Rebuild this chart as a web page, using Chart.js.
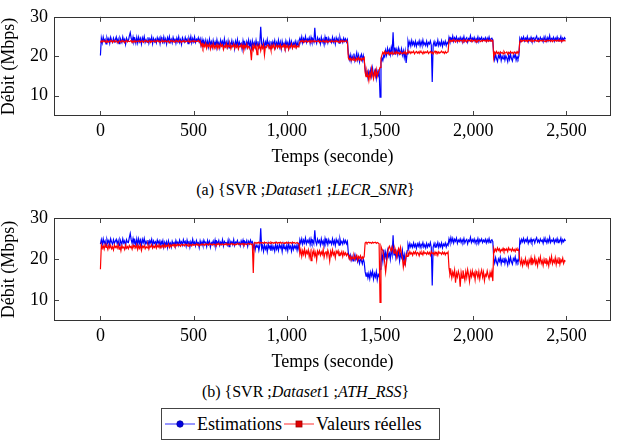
<!DOCTYPE html>
<html><head><meta charset="utf-8">
<script src="https://cdn.jsdelivr.net/npm/chart.js@4.4.0/dist/chart.umd.min.js"></script>
<style>
html,body{margin:0;padding:0;background:#fff;}
body{width:617px;height:446px;position:relative;overflow:hidden;font-family:"Liberation Serif",serif;color:#000;}
canvas{position:absolute;left:0;}
#cA{top:0;}
#cB{top:200px;}
.cap{position:absolute;left:0;width:611px;text-align:center;font-family:"Liberation Serif",serif;font-size:16px;line-height:18px;white-space:nowrap;}
#legend{position:absolute;left:161px;top:408px;width:279px;height:32px;border:1px solid #444;box-sizing:border-box;display:flex;align-items:center;font-family:"Liberation Serif",serif;font-size:18px;padding-left:3px;white-space:nowrap;}
#legend span{font-family:"Liberation Serif",serif;}
#legend svg{display:block;margin:0 2px 0 0;}
</style>
</head><body>
<canvas id="cA" width="617" height="168"></canvas>
<canvas id="cB" width="617" height="173"></canvas>
<div class="cap" style="top:181px;">(a) {SVR ;<i>Dataset</i>1 ;<i>LECR_SNR</i>}</div>
<div class="cap" style="top:383px;">(b) {SVR ;<i>Dataset</i>1 ;<i>ATH_RSS</i>}</div>
<div id="legend">
<svg width="30" height="12"><line x1="0" y1="6" x2="30" y2="6" stroke="#5050ff" stroke-width="1.2"/><circle cx="15" cy="6" r="3.2" fill="#0000e0" stroke="#0000a0" stroke-width="0.8"/></svg>
<span>Estimations</span>
<svg width="30" height="12" style="margin-left:2px"><line x1="0" y1="6" x2="30" y2="6" stroke="#ff5050" stroke-width="1.2"/><rect x="12" y="3" width="6" height="6" fill="#e00000" stroke="#a00000" stroke-width="0.8"/></svg>
<span>Valeurs réelles</span>
</div>
<script>
// ---- data (one sample every 5 s) ----
const SAMPLE_PERIOD = 5; // seconds between plotted samples
const X_TICKS = [0, 500, 1000, 1500, 2000, 2500];
const Y_TICKS = [10, 20, 30];
const SERIES_NAMES = ["Estimations", "Valeurs réelles"];

// (a) {SVR; Dataset1; LECR_SNR}
const estimationsA = [
20.2,24.6,23.4,24.9,23.8,24.3,23.1,24.7,23.9,24.5,
23.3,24.8,24.0,23.5,24.6,23.7,24.2,24.9,23.6,24.4,
23.2,24.7,24.1,23.5,24.9,23.8,24.3,23.0,24.6,24.0,
23.9,25.1,26.0,24.6,23.7,24.9,23.6,24.4,23.3,24.8,
23.4,24.8,23.7,24.5,23.1,24.7,23.9,25.0,23.5,24.2,
23.6,24.8,23.3,24.4,23.8,24.9,23.2,24.5,23.7,24.3,
23.4,24.7,23.9,24.6,23.2,24.8,24.0,23.5,24.9,23.6,
24.4,23.1,24.7,23.8,25.0,23.6,24.3,23.4,24.8,23.9,
24.5,23.3,24.6,23.7,24.9,23.5,24.2,23.0,24.7,24.1,
23.6,24.8,23.9,24.4,23.2,24.6,23.8,25.0,23.4,24.5,
23.7,24.9,23.5,24.3,23.9,24.7,23.6,24.4,
22.8,24.2,
22.5,23.9,22.9,24.1,22.6,23.8,22.4,24.3,23.0,23.7,
22.3,24.0,22.8,23.6,22.5,24.2,22.9,23.5,22.2,24.1,
23.1,23.8,22.6,24.4,22.7,23.6,22.4,23.9,22.1,23.4,
22.8,24.0,22.6,23.5,21.9,23.8,22.7,24.2,22.4,23.6,
22.9,23.3,21.8,23.9,22.5,23.4,22.2,23.7,22.8,24.1,
22.4,23.6,22.0,23.9,22.7,23.5,22.3,24.0,22.6,23.8,
22.2,23.4,27.5,23.1,22.5,23.9,22.1,23.6,22.8,24.2,
22.6,23.5,22.0,23.8,22.4,23.7,22.9,24.0,22.3,23.5,
22.7,24.1,22.4,23.6,21.9,23.8,22.6,23.3,22.2,23.9,
22.8,23.5,22.1,24.0,22.5,23.7,22.3,23.4,22.9,23.8,
22.4,23.6,22.7,23.9,
24.6,23.6,24.9,23.4,24.5,23.8,
25.0,23.5,24.4,23.9,24.7,23.3,24.8,23.7,24.3,23.6,
27.2,24.1,23.3,24.7,23.9,24.4,23.2,24.8,23.6,24.3,
23.0,24.9,23.7,24.5,23.4,24.6,23.8,24.2,23.5,24.8,
23.6,24.4,23.1,24.7,23.9,24.5,23.3,24.8,23.7,24.2,
23.5,24.6,23.8,24.4,23.6,24.2,
20.6,19.2,20.4,18.8,
20.1,19.4,20.7,18.9,19.8,20.9,19.1,20.3,18.6,19.9,
20.5,19.0,20.2,18.9,
16.8,15.1,16.4,14.6,16.2,15.3,
16.6,15.0,16.9,14.8,15.9,16.5,14.4,16.1,15.2,16.7,
9.6,
18.4,19.6,18.9,20.3,19.8,21.5,20.3,22.0,20.8,
21.7,20.4,22.2,21.0,26.1,20.6,22.2,20.9,21.8,20.5,
22.1,21.2,20.7,21.9,20.3,21.4,19.7,21.3,18.3,20.6,
23.9,22.8,23.7,22.6,24.0,22.9,23.6,22.7,23.8,22.5,
23.5,23.0,23.9,22.6,23.7,22.8,24.1,22.9,23.4,22.7,
23.8,22.6,23.5,23.1,23.9,22.8,13.5,22.8,23.7,22.6,
23.4,22.9,24.1,22.7,23.5,22.8,23.9,22.5,23.6,23.0,
23.8,22.7,23.5,23.1,
24.8,23.9,24.6,24.0,25.1,23.8,
24.7,24.2,24.9,23.7,24.5,24.1,24.8,23.9,24.6,24.0,
25.0,23.8,24.4,24.7,23.6,24.5,24.2,25.2,23.9,24.6,
24.1,24.8,23.8,24.5,24.0,24.9,23.7,24.6,24.2,24.8,
23.9,24.5,24.1,24.7,23.8,24.6,24.0,24.9,23.9,24.4,
24.6,24.1,
20.3,19.1,20.5,19.4,18.7,20.2,19.6,20.6,
18.9,20.0,19.3,20.4,19.0,20.1,19.5,18.6,20.3,19.2,
20.5,19.4,18.8,20.2,19.7,20.6,19.0,19.9,19.3,20.1,
24.5,23.8,24.7,24.1,24.9,23.9,24.6,24.2,25.0,23.7,
24.5,24.0,24.8,23.9,24.4,24.7,23.8,24.6,25.1,24.0,
24.5,23.9,24.8,24.2,24.5,23.7,24.9,24.1,24.6,23.8,
24.7,24.0,25.2,23.9,24.5,24.2,24.8,23.8,24.6,24.1,
24.9,23.9,24.5,24.2,25.0,23.8,24.6,24.1,24.7,24.3
];
const realA = [
23.5,23.9,23.6,24.0,23.7,23.9,23.5,24.0,23.8,23.6,
23.9,23.7,24.0,23.5,23.8,24.0,23.6,23.9,23.7,23.4,
23.9,23.8,23.6,24.0,23.7,23.9,23.4,23.8,24.0,23.6,
23.9,23.7,23.8,24.0,23.5,23.9,23.7,24.0,23.6,23.8,
23.9,23.7,24.0,23.6,23.8,23.9,23.5,23.8,24.0,23.7,
23.9,23.6,23.8,24.0,23.5,23.9,23.7,23.8,24.0,23.6,
23.8,24.0,23.7,23.9,23.5,23.8,24.0,23.6,23.9,23.7,
24.0,23.6,23.8,23.9,23.4,23.8,24.0,23.7,23.9,23.6,
23.8,24.0,23.7,23.9,23.6,24.0,23.8,23.5,23.9,23.7,
24.0,23.6,23.8,23.9,23.7,24.0,23.5,23.8,23.9,23.7,
24.0,23.6,23.9,23.7,23.8,24.0,23.6,23.9,
22.6,23.2,
22.1,23.0,22.4,23.3,22.0,22.9,22.5,23.1,21.8,22.8,
22.3,23.2,22.0,22.7,22.4,23.0,21.9,22.8,22.2,23.1,
22.5,22.9,21.7,22.6,22.3,23.2,22.1,22.8,22.4,23.0,
21.9,22.7,22.5,23.1,22.0,22.8,22.3,22.9,21.8,22.6,
22.4,23.0,22.1,22.8,21.6,22.7,22.3,23.1,22.0,22.5,
22.3,21.5,19.0,22.5,21.6,22.9,22.1,22.6,20.4,22.7,
22.1,22.8,21.4,22.6,22.0,22.9,20.3,22.4,22.2,22.8,
22.9,22.0,22.6,21.5,22.8,22.2,23.0,21.8,22.5,22.9,
22.1,22.7,22.3,22.9,21.9,22.6,22.4,23.0,22.0,22.7,
22.2,22.8,21.7,22.6,22.4,23.1,22.0,22.7,22.3,22.9,
22.1,22.6,22.4,22.8,
23.6,23.9,23.7,24.0,23.5,23.9,
23.7,24.0,23.6,23.8,23.9,23.5,24.0,23.7,23.8,24.0,
23.6,23.9,23.7,23.8,24.0,23.5,23.9,23.7,23.8,24.0,
23.6,23.9,23.7,24.0,23.5,23.8,23.9,23.6,24.0,23.7,
23.8,23.9,23.6,24.0,23.7,23.8,23.5,23.9,23.7,24.0,
23.6,23.9,23.7,23.8,24.0,23.6,
19.6,19.1,19.5,18.9,
19.4,19.0,19.6,19.2,18.8,19.5,19.1,19.7,19.0,19.4,
18.9,19.5,19.2,19.6,
15.9,14.8,16.3,15.2,13.8,15.7,
14.6,16.9,15.4,14.3,16.1,15.0,16.6,14.9,15.8,16.4,
17.2,
19.5,20.3,21.0,20.6,21.2,20.5,21.0,20.7,21.1,
20.4,20.9,20.6,21.1,20.5,20.8,21.0,20.6,21.2,20.7,
20.9,20.5,21.1,20.8,20.6,21.0,20.7,21.2,20.5,20.9,
21.3,20.8,21.2,20.7,21.1,20.9,21.3,20.6,21.0,21.2,
20.8,21.1,20.7,21.3,20.9,21.0,20.6,21.2,20.8,21.1,
20.9,21.3,20.7,21.0,21.2,20.8,21.1,20.6,21.0,21.3,
20.9,21.2,20.7,21.1,20.8,21.0,21.3,20.9,21.1,20.7,
21.2,20.8,21.0,21.1,
23.9,24.1,23.7,24.0,23.8,24.2,
23.9,23.6,24.1,23.8,24.0,23.7,24.1,23.9,24.0,23.7,
24.2,23.8,24.0,23.6,24.1,23.9,24.0,23.8,24.2,23.7,
24.0,23.9,24.1,23.6,24.0,23.8,24.1,23.9,23.7,24.0,
23.8,24.1,23.9,24.0,23.7,24.2,23.8,24.0,23.9,24.1,
23.8,24.0,
19.6,21.0,20.6,21.2,20.7,21.0,20.5,21.1,
20.8,21.0,20.6,21.2,20.8,20.9,21.1,20.5,21.0,20.7,
21.2,20.8,21.0,20.6,21.1,20.9,20.7,21.2,20.8,21.0,
23.8,24.1,23.7,24.0,23.9,24.1,23.8,24.0,23.7,24.1,
23.9,24.0,23.8,24.1,23.7,24.0,23.9,24.1,23.8,24.0,
23.7,24.1,23.9,24.0,23.8,24.1,23.9,23.7,24.0,23.8,
24.1,23.9,24.0,23.8,24.1,23.7,24.0,23.9,24.1,23.8,
24.0,23.9,24.1,23.8,24.0,23.7,24.1,23.9,24.0,23.8
];

// (b) {SVR; Dataset1; ATH_RSS}
const estimationsB = [
23.6,24.7,23.5,24.9,23.8,24.4,23.2,24.8,24.0,24.5,
23.4,24.9,24.1,23.6,24.7,23.8,24.3,24.8,23.7,24.5,
23.3,24.8,24.2,23.6,24.9,23.9,24.4,23.1,24.7,24.1,
24.0,25.2,26.2,24.7,23.8,25.0,23.7,24.5,23.4,24.9,
23.5,24.9,23.8,24.6,23.2,24.8,24.0,25.0,23.6,24.3,
23.7,24.6,23.4,24.5,23.9,24.8,23.3,24.4,23.8,24.2,
23.5,24.6,23.8,24.4,23.2,24.3,23.6,24.5,22.9,24.1,
23.4,24.2,22.8,24.4,23.5,23.9,22.9,24.3,23.6,24.0,
23.2,24.5,23.7,24.1,23.3,24.6,23.8,24.2,23.4,24.7,
23.9,24.3,23.1,24.6,23.7,24.4,22.9,24.2,23.5,24.8,
23.6,24.1,23.2,24.5,23.8,24.0,22.8,24.4,23.5,24.2,
23.3,24.6,23.9,24.1,23.0,24.5,23.6,24.3,22.9,24.0,
23.7,24.4,23.4,24.6,23.1,24.2,23.8,24.5,23.3,24.1,
23.6,24.7,23.2,24.3,23.9,24.0,23.4,24.6,23.0,24.4,
23.8,24.2,23.5,24.7,23.3,24.1,23.9,24.5,23.6,24.0,
23.2,24.4,23.7,24.6,23.4,24.2,23.8,24.5,23.1,24.3,
23.7,24.6,23.9,24.2,
22.6,23.6,22.2,23.4,22.9,23.5,
22.1,23.3,27.5,22.5,23.3,21.9,23.5,22.4,23.1,21.8,
23.7,22.6,23.2,22.0,23.4,22.3,23.0,21.9,23.6,22.4,
23.2,22.1,23.5,22.7,23.3,21.8,23.6,22.5,23.0,22.2,
23.4,22.0,23.7,22.6,23.1,21.9,23.5,22.3,23.2,22.6,
23.3,22.1,23.5,22.4,
24.7,23.8,24.9,23.6,24.6,23.9,
25.1,23.7,24.5,24.0,24.8,23.5,24.9,23.8,24.4,23.7,
27.0,24.2,23.5,24.8,24.0,24.5,23.4,24.9,23.7,24.4,
23.2,25.0,23.8,24.6,23.5,24.7,23.9,24.3,23.6,24.9,
23.7,24.5,23.3,24.8,24.0,24.6,23.4,24.9,23.8,24.3,
23.6,24.7,23.9,24.5,23.7,24.3,
21.4,20.2,21.0,19.7,
20.6,19.5,20.3,21.1,19.8,20.5,19.3,20.2,18.9,19.9,
19.6,18.8,20.1,19.2,
16.9,15.8,16.7,15.4,16.5,15.2,
16.8,15.9,17.0,15.1,16.4,15.6,16.9,14.9,16.2,15.7,
17.5,
19.0,21.2,19.4,22.3,20.1,21.6,19.8,22.0,20.6,
21.4,19.9,22.4,21.0,25.8,21.0,22.4,20.3,21.7,20.6,
21.9,19.5,21.2,20.4,22.1,19.8,21.0,18.4,20.6,22.0,
23.6,22.7,23.8,22.9,23.5,22.8,23.9,23.0,23.6,22.6,
23.7,23.1,23.9,22.8,23.6,23.2,24.0,22.9,23.5,22.7,
23.8,22.9,23.6,23.1,24.0,22.8,13.5,22.9,23.8,22.9,
23.6,23.1,24.0,22.8,23.7,23.0,23.9,22.7,23.6,23.2,
23.9,22.9,23.7,23.3,
24.9,24.0,25.2,24.1,25.0,23.9,
24.8,24.3,25.1,23.8,24.6,24.2,24.9,24.0,24.7,24.1,
25.0,23.9,24.5,24.8,23.7,24.6,24.3,25.3,24.0,24.7,
24.2,24.9,23.9,24.6,24.1,25.0,23.8,24.7,24.3,24.9,
24.0,24.6,24.2,24.8,23.9,24.7,24.1,25.0,24.0,24.5,
24.7,24.2,
20.1,19.0,20.3,19.2,18.6,20.0,19.4,20.4,
18.8,19.9,19.2,20.3,18.9,20.0,19.4,18.5,20.2,19.1,
20.4,19.3,18.7,20.1,19.6,20.5,18.9,19.8,19.2,20.0,
24.6,23.9,24.8,24.2,25.0,24.0,24.7,24.3,25.1,23.8,
24.6,24.1,24.9,24.0,24.5,24.8,23.9,24.7,25.2,24.1,
24.6,24.0,24.9,24.3,24.6,23.8,25.0,24.2,24.7,23.9,
24.8,24.1,25.3,24.0,24.6,24.3,24.9,23.9,24.7,24.2,
25.0,24.0,24.6,24.3,25.1,23.9,24.7,24.2,24.8,24.4
];
const realB = [
17.5,23.4,22.6,23.2,22.4,23.5,22.8,23.1,22.3,23.4,
22.7,23.3,22.5,23.0,22.2,23.4,22.8,23.1,22.6,23.5,
22.4,23.2,22.0,23.3,22.7,22.9,22.3,23.4,22.6,23.0,
22.5,23.3,22.8,23.1,22.4,23.4,22.9,23.2,22.7,23.5,
22.3,23.2,22.6,23.4,22.1,23.1,22.8,23.3,22.5,23.0,
22.7,23.4,22.4,23.2,22.9,23.5,22.6,23.1,22.8,23.4,
22.6,23.3,22.9,23.5,22.7,23.2,23.0,23.4,22.8,23.5,
22.9,23.3,23.1,23.6,22.8,23.4,23.0,23.5,23.2,23.6,
23.1,23.5,23.2,23.6,23.3,23.5,23.1,23.6,23.4,23.5,
23.2,23.6,23.4,23.5,23.1,23.6,23.3,23.5,23.2,23.6,
23.4,23.5,23.3,23.7,23.4,23.6,23.2,23.5,23.4,23.7,
23.5,23.6,23.3,23.7,23.5,23.6,23.4,23.8,23.5,23.6,
23.4,23.7,23.5,23.6,23.3,23.7,23.5,23.8,23.4,23.6,
23.5,23.7,23.4,23.6,23.5,23.8,23.4,23.7,23.5,23.6,
23.6,23.8,23.5,23.7,23.4,23.6,23.5,23.8,23.6,23.7,
23.5,23.7,23.6,23.8,23.4,23.7,23.6,23.5,23.7,23.8,
23.6,23.7,23.5,23.6,
16.6,23.9,24.0,23.8,24.0,23.9,
24.1,23.8,24.0,23.9,24.0,23.8,24.1,23.9,24.0,23.8,
23.9,24.0,23.8,24.1,23.9,24.0,23.8,24.0,23.9,24.1,
23.8,24.0,23.9,24.1,23.8,24.0,23.9,23.8,24.0,23.9,
24.1,23.8,24.0,23.9,24.0,23.8,24.1,23.9,24.0,23.8,
23.9,24.0,23.8,23.9,
21.2,22.3,20.6,22.0,21.1,22.4,
20.8,21.9,21.3,22.2,20.5,21.7,19.6,21.8,21.0,22.1,
20.7,21.6,19.8,21.9,21.2,22.0,20.9,21.7,21.1,22.3,
20.4,21.5,21.9,20.6,22.1,21.3,19.5,21.8,20.9,22.2,
21.0,21.6,20.3,21.9,21.4,22.0,20.8,21.5,21.1,21.8,
20.6,21.7,21.0,21.5,20.8,21.3,
20.9,20.0,20.7,19.8,
20.5,20.1,20.8,19.9,20.4,20.9,19.7,20.6,20.2,20.8,
19.9,20.5,20.1,20.6,
23.9,24.1,23.8,24.0,24.1,23.9,
24.0,23.8,24.1,23.9,24.0,24.1,23.8,24.0,23.9,23.7,
9.4,
23.1,22.4,22.0,20.5,19.2,16.8,18.9,21.2,22.6,
23.1,22.4,21.9,23.0,22.2,21.4,22.6,21.8,20.4,22.0,
22.6,21.5,22.8,21.3,20.2,18.0,19.5,18.6,21.1,20.6,
21.6,21.0,21.8,21.2,21.5,20.9,21.7,21.3,21.8,21.0,
21.6,21.4,20.8,21.7,21.2,21.6,21.0,21.8,21.3,21.5,
21.1,21.7,21.2,21.6,20.9,21.8,21.3,21.5,21.0,21.7,
21.2,21.6,20.9,21.8,21.4,21.5,21.1,21.7,21.2,21.6,
21.0,21.5,21.3,21.7,
17.8,16.2,17.1,15.4,16.8,15.9,
17.3,14.2,16.5,15.6,17.0,16.1,13.2,16.7,15.3,17.2,
16.0,14.8,16.9,15.5,17.4,16.2,14.5,16.8,15.7,17.1,
15.9,16.6,14.9,17.0,16.3,15.4,16.9,15.1,16.5,17.3,
15.6,16.8,14.7,16.2,15.8,17.1,16.0,15.2,16.7,15.5,
16.9,14.6,
22.6,21.8,22.4,21.9,22.7,22.1,22.5,21.7,
22.3,22.0,22.6,21.9,22.4,22.1,22.5,21.8,22.7,22.2,
22.4,21.9,22.6,22.0,22.3,21.8,22.5,22.1,22.4,22.0,
19.6,18.7,19.9,18.4,19.5,18.9,20.1,18.6,19.4,18.2,
19.8,19.0,20.3,18.5,19.7,19.1,20.4,18.8,19.6,18.3,
20.0,19.2,20.5,18.9,19.6,18.4,19.9,19.0,20.2,18.7,
19.5,18.3,20.1,19.2,20.6,18.8,19.7,19.1,20.3,18.6,
19.9,19.0,20.4,18.7,19.8,19.3,20.2,18.9,19.6,19.4
];

// ---- rendering ----
const FONT = "'Liberation Serif', 'Times New Roman', serif";
const BLUE = "rgb(0,0,255)";
const RED = "rgb(255,0,0)";

const toPoints = arr => arr.map((v, i) => ({ x: i * SAMPLE_PERIOD, y: v }));

const framePlugin = {
  id: 'frame',
  afterDatasetsDraw(chart) {
    const { ctx, chartArea: a, scales: { x, y } } = chart;
    const L = 5;
    ctx.save();
    ctx.strokeStyle = '#444';
    ctx.lineWidth = 1;
    ctx.beginPath();
    for (const v of X_TICKS) {
      const px = Math.round(x.getPixelForValue(v)) + 0.5;
      ctx.moveTo(px, a.bottom); ctx.lineTo(px, a.bottom - L);
      ctx.moveTo(px, a.top); ctx.lineTo(px, a.top + L);
    }
    for (const v of Y_TICKS) {
      const py = Math.round(y.getPixelForValue(v)) + 0.5;
      ctx.moveTo(a.left, py); ctx.lineTo(a.left + L, py);
      ctx.moveTo(a.right, py); ctx.lineTo(a.right - L, py);
    }
    ctx.stroke();
    ctx.strokeStyle = '#333';
    ctx.strokeRect(Math.round(a.left) + 0.5, Math.round(a.top) + 0.5,
                   Math.round(a.right - a.left) - 1, Math.round(a.bottom - a.top) - 1);
    ctx.restore();
  }
};

function makeChart(id, est, real, topPad) {
  const ctx = document.getElementById(id);
  return new Chart(ctx, {
    type: 'line',
    data: {
      datasets: [
        { label: SERIES_NAMES[0], data: toPoints(est), borderColor: BLUE, backgroundColor: BLUE,
          borderWidth: 1.2, pointRadius: 0, tension: 0, order: 1 },
        { label: SERIES_NAMES[1], data: toPoints(real), borderColor: RED, backgroundColor: RED,
          borderWidth: 1.2, pointRadius: 0, tension: 0, order: 0 }
      ]
    },
    options: {
      responsive: false,
      animation: false,
      events: [],
      layout: { padding: { top: topPad, right: 6, left: 0, bottom: 0 } },
      plugins: { legend: { display: false }, tooltip: { enabled: false } },
      scales: {
        x: {
          type: 'linear', min: -249, max: 2739,
          grid: { display: false, drawTicks: false },
          border: { display: false },
          afterBuildTicks: s => { s.ticks = X_TICKS.map(v => ({ value: v })); },
          afterFit: s => { s.height = 52; },
          ticks: { color: '#000', padding: 4, maxRotation: 0, autoSkip: false,
                   font: { family: FONT, size: 18, weight: 'normal' },
                   callback: v => Number(v).toLocaleString('en-US') },
          title: { display: true, text: 'Temps (seconde)', color: '#000',
                   font: { family: FONT, size: 18, weight: 'normal', lineHeight: 1.2 }, padding: { top: 0, bottom: 0 } }
        },
        y: {
          type: 'linear', min: 4.85, max: 30,
          grid: { display: false, drawTicks: false },
          border: { display: false },
          afterBuildTicks: s => { s.ticks = Y_TICKS.map(v => ({ value: v })); },
          afterFit: s => { s.width = 54; },
          ticks: { color: '#000', padding: 6, font: { family: FONT, size: 18, weight: 'normal' } },
          title: { display: true, text: 'Débit (Mbps)', color: '#000',
                   font: { family: FONT, size: 18, weight: 'normal', lineHeight: 1 }, padding: { top: 0, bottom: 0 } }
        }
      }
    },
    plugins: [framePlugin]
  });
}

makeChart('cA', estimationsA, realA, 14);
makeChart('cB', estimationsB, realB, 18);
</script>
</body></html>
